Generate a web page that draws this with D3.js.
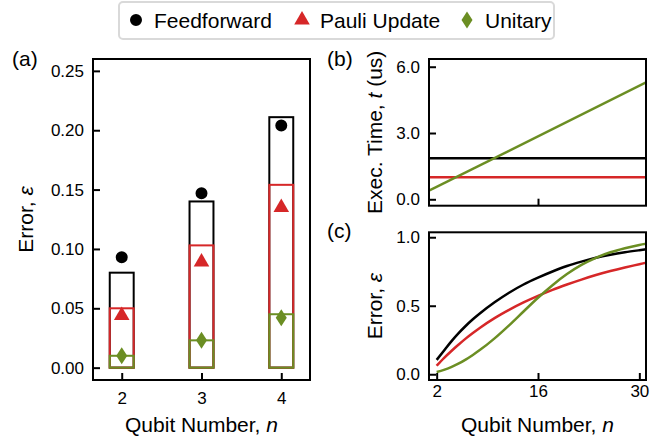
<!DOCTYPE html>
<html><head><meta charset="utf-8">
<script src="https://cdn.jsdelivr.net/npm/d3@7"></script>
<style>
html,body{margin:0;padding:0;background:#fff;}
text{font-family:"Liberation Sans", Arial, sans-serif;fill:#000;}
</style></head>
<body><svg id="chart" width="672" height="441"></svg>
<script>
// ---------- data ----------
const qubits = [2, 3, 4];
// bar heights (a)
const barFeedforward = [0.080, 0.140, 0.211];
const barPauli = [0.050, 0.103, 0.154];
const barUnitary = [0.010, 0.023, 0.045];
// markers (a)
const ptFeedforward = [0.093, 0.147, 0.204];
const ptPauli = [0.044, 0.089, 0.135];
const ptUnitary = [0.010, 0.023, 0.042];
// (b) execution time
const timeN = [0, 32];
const timeFeedforward = [1.855, 1.855];
const timePauli = [1.0, 1.0];
const timeUnitary = [0.236, 5.466];
// (c) error vs qubit number
const errN = [2, 3, 4, 5, 6, 7, 8, 10, 12, 14, 16, 18, 20, 22, 24, 26, 28, 30, 31];
const errFeedforward = [0.105, 0.172, 0.238, 0.298, 0.352, 0.401, 0.445, 0.525, 0.595, 0.655, 0.705, 0.750, 0.790, 0.822, 0.850, 0.872, 0.890, 0.905, 0.912];
const errPauli = [0.062, 0.118, 0.168, 0.215, 0.260, 0.301, 0.340, 0.410, 0.470, 0.524, 0.572, 0.616, 0.655, 0.691, 0.724, 0.753, 0.779, 0.803, 0.815];
const errUnitary = [0.017, 0.032, 0.052, 0.077, 0.107, 0.141, 0.178, 0.262, 0.357, 0.458, 0.558, 0.650, 0.731, 0.798, 0.850, 0.890, 0.920, 0.944, 0.953];
const ticksA_x = [2, 3, 4];
const ticksA_y = [0, 0.05, 0.10, 0.15, 0.20, 0.25];
const ticksB_y = [0, 3, 6];
const ticksC_x = [2, 16, 30];
const ticksC_y = [0, 0.5, 1.0];
const seriesNames = ["Feedforward", "Pauli Update", "Unitary"];

// ---------- styles ----------
const BLACK = "#000000", RED = "#d62728", GREEN = "#6b8e23";
const colors = [BLACK, RED, GREEN];
const svg = d3.select("#chart");

function diamondPath(w, h) {
  return `M0,${-h/2}L${w/2},0L0,${h/2}L${-w/2},0Z`;
}
const markerPaths = [
  d3.symbol(d3.symbolCircle, 113)(),
  d3.symbol(d3.symbolTriangle, 105)(),
  diamondPath(11, 17)
];

function frame(g, x0, y0, x1, y1) {
  g.append("rect").attr("x", x0).attr("y", y0).attr("width", x1 - x0).attr("height", y1 - y0)
    .attr("fill", "none").attr("stroke", BLACK).attr("stroke-width", 2);
}
function styleAxis(sel) {
  sel.select(".domain").remove();
  sel.selectAll(".tick line").attr("stroke", BLACK).attr("stroke-width", 2);
  sel.selectAll(".tick text").style("font-size", "17px").style("font-family", '"Liberation Sans", Arial, sans-serif').attr("fill", BLACK);
}

// ---------- panel (a) ----------
const A = {x0: 93, x1: 310, y0: 59, y1: 380};
const xa = d3.scaleLinear([1.64, 4.36], [A.x0, A.x1]);
const ya = d3.scaleLinear([-0.0104, 0.26], [A.y1, A.y0]);
const ga = svg.append("g");
const bw = 0.3;
[barFeedforward, barPauli, barUnitary].forEach((arr, si) => {
  ga.selectAll(null).data(arr).join("rect")
    .attr("x", (d, i) => xa(qubits[i] - bw / 2))
    .attr("width", xa(bw) - xa(0))
    .attr("y", d => ya(d))
    .attr("height", d => ya(0) - ya(d))
    .attr("fill", "none").attr("stroke", colors[si]).attr("stroke-width", 2);
});
[ptFeedforward, ptPauli, ptUnitary].forEach((arr, si) => {
  ga.selectAll(null).data(arr).join("path")
    .attr("d", markerPaths[si])
    .attr("transform", (d, i) => `translate(${xa(qubits[i])},${ya(d)})`)
    .attr("fill", colors[si]);
});
ga.append("g").attr("transform", `translate(${A.x0},0)`)
  .call(d3.axisLeft(ya).tickValues(ticksA_y).tickFormat(d3.format(".2f")).tickSize(-7).tickPadding(9)).call(styleAxis);
ga.append("g").attr("transform", `translate(0,${A.y1})`)
  .call(d3.axisBottom(xa).tickValues(ticksA_x).tickFormat(d3.format("d")).tickSize(-7).tickPadding(12)).call(styleAxis);
frame(ga, A.x0, A.y0, A.x1, A.y1);
ga.append("text").attr("x", 12).attr("y", 66).style("font-size", "21px").text("(a)");
ga.append("text").attr("transform", `translate(33,${(A.y0 + A.y1) / 2}) rotate(-90)`)
  .attr("text-anchor", "middle").style("font-size", "21px")
  .html('Error, <tspan font-style="italic">ε</tspan>');
ga.append("text").attr("x", (A.x0 + A.x1) / 2).attr("y", 432).attr("text-anchor", "middle").style("font-size", "21px")
  .html('Qubit Number, <tspan font-style="italic">n</tspan>');

// ---------- panel (b) ----------
const B = {x0: 429, x1: 646, y0: 59, y1: 205.7};
const xb = d3.scaleLinear([0.94, 30.92], [B.x0, B.x1]);
const yb = d3.scaleLinear([-0.29, 6.35], [B.y1, B.y0]);
const gb = svg.append("g");
svg.append("clipPath").attr("id", "clipB").append("rect")
  .attr("x", B.x0).attr("y", B.y0).attr("width", B.x1 - B.x0).attr("height", B.y1 - B.y0);
const lineB = d3.line().x((d, i) => xb(timeN[i])).y(d => yb(d));
const gbl = gb.append("g").attr("clip-path", "url(#clipB)");
[timeFeedforward, timePauli, timeUnitary].forEach((arr, si) => {
  gbl.append("path").attr("d", lineB(arr)).attr("fill", "none").attr("stroke", colors[si]).attr("stroke-width", 2.5);
});
gb.append("g").attr("transform", `translate(${B.x0},0)`)
  .call(d3.axisLeft(yb).tickValues(ticksB_y).tickFormat(d3.format(".1f")).tickSize(-7).tickPadding(9)).call(styleAxis);
gb.append("g").attr("transform", `translate(0,${B.y1})`)
  .call(d3.axisBottom(xb).tickValues([16]).tickFormat("").tickSize(-7)).call(styleAxis);
frame(gb, B.x0, B.y0, B.x1, B.y1);
gb.append("text").attr("x", 327).attr("y", 66).style("font-size", "21px").text("(b)");
gb.append("text").attr("transform", `translate(382,${(B.y0 + B.y1) / 2}) rotate(-90)`)
  .attr("text-anchor", "middle").style("font-size", "21px")
  .html('Exec. Time, <tspan font-style="italic">t</tspan> (us)');

// ---------- panel (c) ----------
const C = {x0: 429, x1: 646, y0: 232.3, y1: 380};
const xc = d3.scaleLinear([0.94, 30.92], [C.x0, C.x1]);
const yc = d3.scaleLinear([-0.042, 1.036], [C.y1, C.y0]);
const gc = svg.append("g");
svg.append("clipPath").attr("id", "clipC").append("rect")
  .attr("x", C.x0).attr("y", C.y0).attr("width", C.x1 - C.x0).attr("height", C.y1 - C.y0);
const lineC = d3.line().x((d, i) => xc(errN[i])).y(d => yc(d)).curve(d3.curveMonotoneX);
const gcl = gc.append("g").attr("clip-path", "url(#clipC)");
[errFeedforward, errPauli, errUnitary].forEach((arr, si) => {
  gcl.append("path").attr("d", lineC(arr)).attr("fill", "none").attr("stroke", colors[si]).attr("stroke-width", 2.5);
});
gc.append("g").attr("transform", `translate(${C.x0},0)`)
  .call(d3.axisLeft(yc).tickValues(ticksC_y).tickFormat(d3.format(".1f")).tickSize(-7).tickPadding(9)).call(styleAxis);
gc.append("g").attr("transform", `translate(0,${C.y1})`)
  .call(d3.axisBottom(xc).tickValues(ticksC_x).tickFormat(d3.format("d")).tickSize(-7).tickPadding(5)).call(styleAxis);
frame(gc, C.x0, C.y0, C.x1, C.y1);
gc.append("text").attr("x", 327).attr("y", 238).style("font-size", "21px").text("(c)");
gc.append("text").attr("transform", `translate(382,${(C.y0 + C.y1) / 2}) rotate(-90)`)
  .attr("text-anchor", "middle").style("font-size", "21px")
  .html('Error, <tspan font-style="italic">ε</tspan>');
gc.append("text").attr("x", (C.x0 + C.x1) / 2).attr("y", 432).attr("text-anchor", "middle").style("font-size", "21px")
  .html('Qubit Number, <tspan font-style="italic">n</tspan>');

// ---------- legend ----------
const lg = svg.append("g");
lg.append("rect").attr("x", 119).attr("y", 2).attr("width", 435).attr("height", 37).attr("rx", 4)
  .attr("fill", "#fff").attr("stroke", "#d9d9d9").attr("stroke-width", 2);
const legX = [136, 302, 467];
seriesNames.forEach((name, i) => {
  lg.append("path").attr("d", markerPaths[i]).attr("transform", `translate(${legX[i]},20)`).attr("fill", colors[i]);
  lg.append("text").attr("x", legX[i] + 18).attr("y", 27.5).style("font-size", "21px").text(name);
});
</script></body></html>
